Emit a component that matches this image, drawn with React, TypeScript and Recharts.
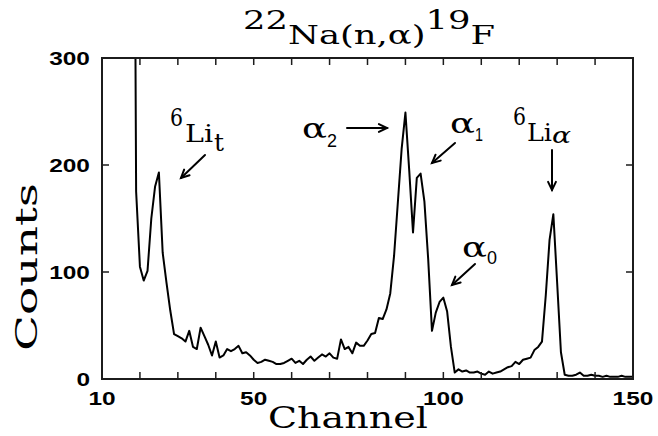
import { LineChart, Line, XAxis, YAxis } from 'recharts';

const CHANNELS = [
  18, 19, 20, 21, 22, 23, 24, 25, 26, 27, 28, 29, 30, 31, 32, 33, 34, 35, 36, 37, 38, 39,
  40, 41, 42, 43, 44, 45, 46, 47, 48, 49, 50, 51, 52, 53, 54, 55, 56, 57, 58, 59, 60, 61,
  62, 63, 64, 65, 66, 67, 68, 69, 70, 71, 72, 73, 74, 75, 76, 77, 78, 79, 80, 81, 82, 83,
  84, 85, 86, 87, 88, 89, 90, 91, 92, 93, 94, 95, 96, 97, 98, 99, 100, 101, 102, 103, 104,
  105, 106, 107, 108, 109, 110, 111, 112, 113, 114, 115, 116, 117, 118, 119, 120, 121, 122,
  123, 124, 125, 126, 127, 128, 129, 130, 131, 132, 133, 134, 135, 136, 137, 138, 139, 140,
  141, 142, 143, 144, 145, 146, 147, 148, 149, 150,
];

// counts per channel (first one is the off-scale low-energy spike)
const COUNTS = [
  900, 175, 105, 92, 101, 150, 180, 193, 118, 90, 64, 42, 40, 38, 35, 45, 30, 28, 48, 40, 32, 22,
  35, 20, 22, 28, 26, 28, 31, 24, 25, 22, 18, 15, 16, 18, 17, 16, 14, 14, 15, 17, 19, 15,
  17, 14, 18, 21, 17, 20, 23, 21, 24, 20, 19, 37, 28, 30, 24, 34, 31, 31, 36, 42, 43, 57,
  56, 65, 80, 115, 165, 215, 249, 195, 137, 188, 192, 166, 112, 45, 62, 72, 76, 63, 30, 6, 9,
  7, 8, 6, 6, 7, 5, 4, 7, 5, 6, 7, 9, 11, 12, 16, 14, 18, 19,
  20, 27, 30, 35, 78, 130, 154, 90, 25, 4, 3, 3, 4, 6, 3, 3, 4, 3,
  3, 2, 3, 2, 2, 2, 3, 2, 2, 2,
];

const X_TICKS = [10, 20, 30, 40, 50, 60, 70, 80, 90, 100, 110, 120, 130, 140, 150];
const X_LABELS = [10, 50, 100, 150];
const Y_TICKS = [0, 100, 200, 300];

const data = CHANNELS.map((ch, i) => ({ ch, counts: COUNTS[i] }));

const SERIF = '"DejaVu Serif", "Liberation Serif", serif';
const SANS = '"Liberation Sans", Arial, sans-serif';
const INK = '#1c1c1c';

// plot box edges (follow from the chart margins below)
const TOP = 58;
const BOTTOM = 379;
const LEFT = 102;
const RIGHT = 633;
const TICK = 7;
const FW = 2; // frame thickness

// bottom axis tick: inward marks on bottom and top edges, label for a few
function XTick(props: any) {
  const v = props.payload?.value;
  const x = props.x;
  const s = String(v);
  return (
    <g>
      <rect x={x - 0.75} y={BOTTOM - TICK} width={1.5} height={TICK} fill={INK} />
      <rect x={x - 0.75} y={TOP} width={1.5} height={TICK} fill={INK} />
      {v === X_TICKS[0] && (
        <g fill={INK}>
          <rect x={LEFT - FW / 2} y={TOP - FW / 2} width={RIGHT - LEFT + FW} height={FW} />
          <rect x={LEFT - FW / 2} y={BOTTOM - FW / 2} width={RIGHT - LEFT + FW} height={FW} />
          <rect x={LEFT - FW / 2} y={TOP - FW / 2} width={FW} height={BOTTOM - TOP + FW} />
          <rect x={RIGHT - FW / 2} y={TOP - FW / 2} width={FW} height={BOTTOM - TOP + FW} />
        </g>
      )}
      {X_LABELS.includes(v) && (
        <text x={x} y={405} textAnchor="middle" fontFamily={SANS} fontWeight="bold" fontSize={18}
          fill="#000" textLength={s.length * 13.6} lengthAdjust="spacingAndGlyphs">{s}</text>
      )}
    </g>
  );
}

function YTick(props: any) {
  const y = props.y;
  const s = String(props.payload?.value);
  return (
    <g>
      <rect x={LEFT} y={y - 0.75} width={TICK} height={1.5} fill={INK} />
      <rect x={RIGHT - TICK} y={y - 0.75} width={TICK} height={1.5} fill={INK} />
      <text x={90} y={y + 6.5} textAnchor="end" fontFamily={SANS} fontWeight="bold" fontSize={18}
        fill="#000" textLength={s.length * 13.6} lengthAdjust="spacingAndGlyphs">{s}</text>
    </g>
  );
}

function Arrow({ x1, y1, x2, y2 }: { x1: number; y1: number; x2: number; y2: number }) {
  const a = Math.atan2(y2 - y1, x2 - x1);
  const h = 9;
  const s = 0.45;
  const p1 = [x2 - h * Math.cos(a - s), y2 - h * Math.sin(a - s)];
  const p2 = [x2 - h * Math.cos(a + s), y2 - h * Math.sin(a + s)];
  return (
    <g stroke="#000" strokeWidth={2} fill="none" strokeLinecap="round">
      <line x1={x1} y1={y1} x2={x2} y2={y2} />
      <path d={`M${p1[0]},${p1[1]} L${x2},${y2} L${p2[0]},${p2[1]}`} />
    </g>
  );
}

function T({ x, y, w, size = 24, family = SERIF, style, children }: any) {
  return (
    <text x={x} y={y} fontFamily={family} fontSize={size} fontStyle={style} fill="#000"
      textLength={w} lengthAdjust="spacingAndGlyphs">{children}</text>
  );
}

export default function App() {
  return (
    <div style={{ position: 'absolute', left: 0, top: 0, width: 658, height: 436 }}>
      <LineChart width={658} height={436} data={data} margin={{ top: TOP, right: 658 - RIGHT, left: 0, bottom: 0 }}>
        <XAxis dataKey="ch" type="number" domain={[10, 150]} ticks={X_TICKS} allowDataOverflow
          height={436 - BOTTOM} interval={0} tickLine={false} axisLine={false} tick={<XTick />} />
        <YAxis type="number" domain={[0, 300]} ticks={Y_TICKS} allowDataOverflow width={LEFT}
          interval={0} tickLine={false} axisLine={false} tick={<YTick />} />
        <Line type="linear" dataKey="counts" stroke="#000" strokeWidth={2} dot={false}
          strokeLinejoin="round" isAnimationActive={false} />
      </LineChart>

      <svg width={658} height={436} style={{ position: 'absolute', left: 0, top: 0, pointerEvents: 'none' }}>
        {/* title */}
        <text x={243} y={44} fontFamily={SERIF} fontSize={26} fill="#000" textLength={252} lengthAdjust="spacingAndGlyphs">
          <tspan dy={-15}>22</tspan>
          <tspan dy={15}>Na(n,α)</tspan>
          <tspan dy={-15}>19</tspan>
          <tspan dy={15}>F</tspan>
        </text>

        {/* axis titles */}
        <text x={348} y={428} textAnchor="middle" fontFamily={SERIF} fontSize={29} fill="#000"
          textLength={160} lengthAdjust="spacingAndGlyphs">Channel</text>
        <text transform="translate(37,267) rotate(-90)" textAnchor="middle" fontFamily={SERIF} fontSize={29}
          fill="#000" textLength={168} lengthAdjust="spacingAndGlyphs">Counts</text>

        {/* 6Li triton peak */}
        <T x={170} y={126} w={13}>6</T>
        <T x={185} y={142} w={28}>Li</T>
        <T x={214} y={151} w={10}>t</T>
        <Arrow x1={205} y1={155} x2={181} y2={178} />

        {/* alpha2 */}
        <T x={302} y={138} w={25} size={28}>α</T>
        <T x={327} y={147} w={10} size={19} family={SANS}>2</T>
        <Arrow x1={347} y1={128} x2={387} y2={128} />

        {/* alpha1 */}
        <T x={450} y={133} w={25} size={28}>α</T>
        <T x={475} y={141} w={8} size={19} family={SANS}>1</T>
        <Arrow x1={455} y1={143} x2={432} y2={163} />

        {/* alpha0 */}
        <T x={462} y={257} w={25} size={28}>α</T>
        <T x={487} y={264} w={10} size={19} family={SANS}>0</T>
        <Arrow x1={475} y1={264} x2={452} y2={285} />

        {/* 6Li alpha peak */}
        <T x={513} y={125} w={13}>6</T>
        <T x={527} y={141} w={25}>Li</T>
        <T x={552} y={143} w={19} size={22} style="italic">α</T>
        <Arrow x1={552} y1={150} x2={552} y2={190} />
      </svg>
    </div>
  );
}
